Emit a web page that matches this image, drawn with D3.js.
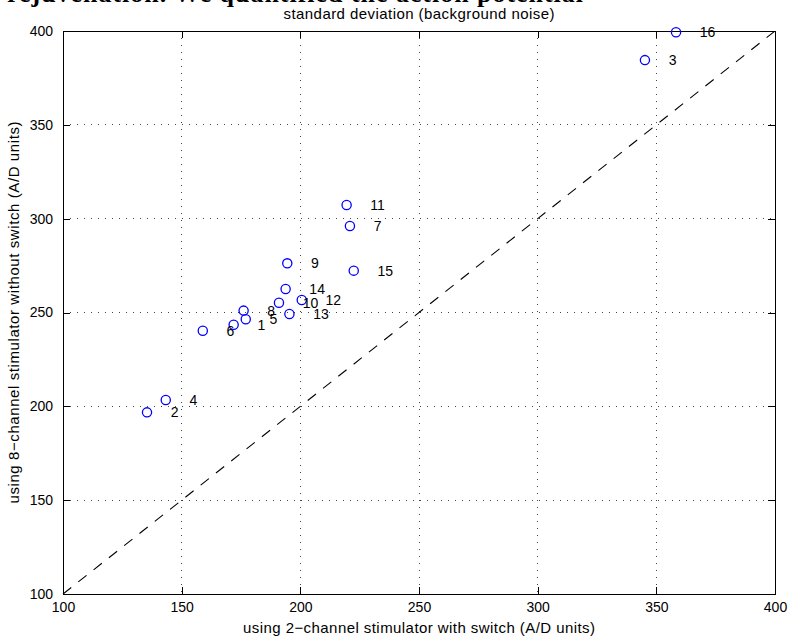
<!DOCTYPE html>
<html>
<head>
<meta charset="utf-8">
<script src="https://cdn.jsdelivr.net/npm/d3@7"></script>
<style>
  body { margin: 0; background: #fff; }
  svg { display: block; }
  text { font-family: "Liberation Sans", Arial, sans-serif; fill: #000; }
</style>
</head>
<body>
<svg id="chart" width="789" height="639"></svg>
<script>
// sample ids and the two noise measurements (A/D units)
const ids = [1, 2, 3, 4, 5, 6, 7, 8, 9, 10, 11, 12, 13, 14, 15, 16]
const withSwitch = [171.9, 135.4, 345.2, 143.3, 177.0, 158.9, 220.9, 176.1, 194.5, 191.0, 219.5, 200.6, 195.4, 193.8, 222.5, 358.3]
const withoutSwitch = [243.5, 196.8, 384.5, 203.4, 246.4, 240.3, 296.1, 251.0, 276.2, 255.2, 307.3, 256.7, 249.2, 262.5, 272.3, 399.3]

const xTicks = [100, 150, 200, 250, 300, 350, 400]
const yTicks = [100, 150, 200, 250, 300, 350, 400]
const diagonal = [100, 400]

const pageText = "rejuvenation. We quantified the action potential"
const title = "standard deviation (background noise)"
const xLabel = "using 2\u2212channel stimulator with switch (A/D units)"
const yLabel = "using 8\u2212channel stimulator without switch (A/D units)"

const margin = { top: 31, right: 14, bottom: 45, left: 63 }
const width = 789 - margin.left - margin.right
const height = 639 - margin.top - margin.bottom
const tickLen = 7

const svg = d3.select("#chart")

// leftover line of the page the figure was cut from
svg.append("text")
    .attr("x", 7)
    .attr("y", 2)
    .attr("textLength", 576)
    .style("font-family", "'Liberation Serif', 'Times New Roman', serif")
    .style("font-weight", "bold")
    .style("font-size", "26px")
    .text(pageText)

const g = svg.append("g").attr("transform", `translate(${margin.left},${margin.top})`)

const x = d3.scaleLinear().domain([100, 400]).range([0, width])
const y = d3.scaleLinear().domain([100, 400]).range([height, 0])

// dotted grid
g.append("g")
    .selectAll("line")
    .data(xTicks.slice(1, -1))
    .join("line")
    .attr("x1", d => x(d)).attr("x2", d => x(d))
    .attr("y1", 0).attr("y2", height)
    .attr("stroke", "#444").attr("stroke-width", 1)
    .attr("stroke-dasharray", "1,6")
    .attr("shape-rendering", "crispEdges")

g.append("g")
    .selectAll("line")
    .data(yTicks.slice(1, -1))
    .join("line")
    .attr("y1", d => y(d)).attr("y2", d => y(d))
    .attr("x1", 0).attr("x2", width)
    .attr("stroke", "#444").attr("stroke-width", 1)
    .attr("stroke-dasharray", "1,6")
    .attr("shape-rendering", "crispEdges")

// axes, ticks pointing inward on all four sides
const fmt = d3.format("d")
const xAxis = g.append("g").attr("transform", `translate(0,${height})`)
    .call(d3.axisBottom(x).tickValues(xTicks).tickFormat(fmt).tickSizeInner(-tickLen).tickSizeOuter(0).tickPadding(10))
const yAxis = g.append("g")
    .call(d3.axisLeft(y).tickValues(yTicks).tickFormat(fmt).tickSizeInner(-tickLen).tickSizeOuter(0).tickPadding(10))
const topAxis = g.append("g")
    .call(d3.axisTop(x).tickValues(xTicks).tickFormat("").tickSizeInner(-tickLen).tickSizeOuter(0))
const rightAxis = g.append("g").attr("transform", `translate(${width},0)`)
    .call(d3.axisRight(y).tickValues(yTicks).tickFormat("").tickSizeInner(-tickLen).tickSizeOuter(0))

for (const a of [xAxis, yAxis, topAxis, rightAxis]) {
    a.selectAll("path, line").attr("stroke", "#000").attr("stroke-width", 1).attr("shape-rendering", "crispEdges")
    a.selectAll("text")
        .style("font-family", "'Liberation Sans', Arial, sans-serif")
        .style("font-size", "14px")
        .attr("fill", "#000")
}
xAxis.selectAll("text").attr("dy", "0.6em")

// y = x reference line
g.append("line")
    .attr("x1", x(diagonal[0])).attr("y1", y(diagonal[0]))
    .attr("x2", x(diagonal[1])).attr("y2", y(diagonal[1]))
    .attr("stroke", "#000").attr("stroke-width", 1.1)
    .attr("stroke-dasharray", "10.5,9")

// points and their labels
const pts = ids.map((id, i) => ({ id: id, a: withSwitch[i], b: withoutSwitch[i] }))

g.append("g")
    .selectAll("circle")
    .data(pts)
    .join("circle")
    .attr("cx", d => x(d.a))
    .attr("cy", d => y(d.b))
    .attr("r", 4.6)
    .attr("fill", "none")
    .attr("stroke", "#0000ff")
    .attr("stroke-width", 1.3)

g.append("g")
    .selectAll("text")
    .data(pts)
    .join("text")
    .attr("x", d => x(d.a + 10))
    .attr("y", d => y(d.b))
    .attr("dy", "0.35em")
    .style("font-size", "14px")
    .text(d => d.id)

// titles
svg.append("text")
    .attr("x", margin.left + width / 2)
    .attr("y", 19)
    .attr("text-anchor", "middle")
    .attr("textLength", 271)
    .style("font-size", "15px")
    .text(title)

svg.append("text")
    .attr("x", margin.left + width / 2)
    .attr("y", 633)
    .attr("text-anchor", "middle")
    .attr("textLength", 352)
    .style("font-size", "15px")
    .text(xLabel)

svg.append("text")
    .attr("transform", `translate(19,${margin.top + height / 2}) rotate(-90)`)
    .attr("text-anchor", "middle")
    .attr("textLength", 382)
    .style("font-size", "15px")
    .text(yLabel)
</script>
</body>
</html>
